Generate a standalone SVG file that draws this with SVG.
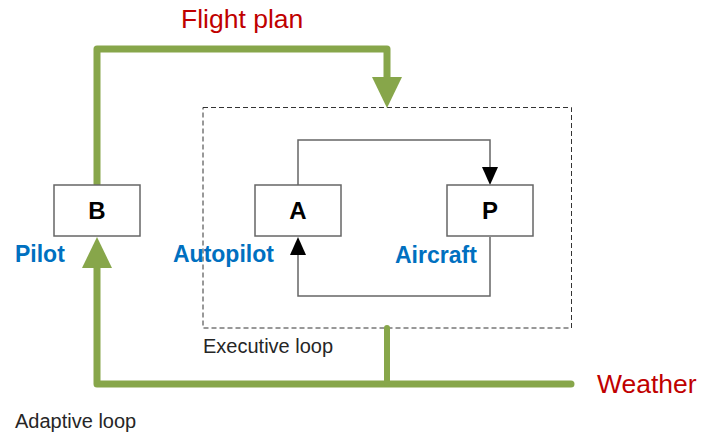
<svg xmlns="http://www.w3.org/2000/svg" width="701" height="434" viewBox="0 0 701 434">
<style>
.box{fill:#fff;stroke:#666;stroke-width:1.5}
.lbl{font-family:"Liberation Sans",Arial,sans-serif;font-weight:bold;font-size:24px;fill:#000;text-anchor:middle}
.role{font-family:"Liberation Sans",Arial,sans-serif;font-weight:bold;font-size:23px;fill:#0070C0}
.red{font-family:"Liberation Sans",Arial,sans-serif;font-size:26.5px;fill:#C00000}
.note{font-family:"Liberation Sans",Arial,sans-serif;font-size:20px;fill:#262626}
.g{fill:none;stroke:#87A64A;stroke-width:7;stroke-linecap:round;stroke-linejoin:round}
.k{fill:none;stroke:#666;stroke-width:1.5}
</style>
<rect x="203" y="107.5" width="368.5" height="220.5" fill="none" stroke="#333" stroke-width="1" stroke-dasharray="5,3"/>
<g id="connectors">
<path class="g" d="M97,184 V49 H387 V78"/>
<polygon points="372,77 402,77 387,108" fill="#87A64A"/>
<path class="g" d="M97,268 V384 H571"/>
<path class="g" style="stroke-width:6" d="M387,328 V384"/>
<polygon points="82,268 112,268 97,237" fill="#87A64A"/>
<path class="k" d="M298,185 V140 H490 V168"/>
<polygon points="482,167 498,167 490,185" fill="#000"/>
<path class="k" d="M490,237 V296 H298 V254"/>
<polygon points="290,255 306,255 298,237" fill="#000"/>
</g>
<g id="B"><rect class="box" x="54" y="185" width="86" height="51"/><text class="lbl" x="97" y="219">B</text></g>
<g id="A"><rect class="box" x="255" y="185" width="86" height="51"/><text class="lbl" x="298" y="219">A</text></g>
<g id="P"><rect class="box" x="447" y="185" width="86" height="51"/><text class="lbl" x="490" y="219">P</text></g>
<text class="role" x="15" y="262">Pilot</text>
<text class="role" x="173" y="262">Autopilot</text>
<text class="role" x="395" y="263">Aircraft</text>
<text class="red" x="181" y="28">Flight plan</text>
<text class="red" x="597" y="393">Weather</text>
<text class="note" x="203" y="353">Executive loop</text>
<text class="note" x="15" y="428">Adaptive loop</text>
</svg>
